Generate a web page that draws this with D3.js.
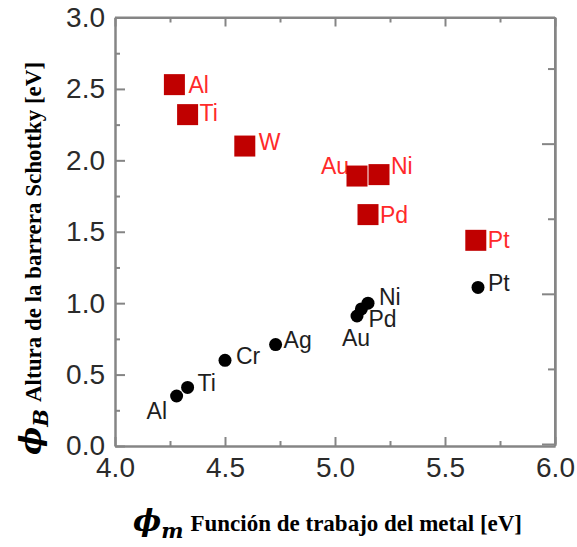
<!DOCTYPE html>
<html>
<head>
<meta charset="utf-8">
<script src="https://cdn.jsdelivr.net/npm/d3@7/dist/d3.min.js"></script>
<style>
  html, body { margin: 0; padding: 0; background: #fff; }
  svg { display: block; }
</style>
</head>
<body>
<svg id="chart" width="577" height="547"></svg>
<script>
// Ideal Schottky–Mott barrier heights (red squares)
const idealMetals  = ["Al", "Ti", "W", "Au", "Ni", "Pd", "Pt"];
const idealWork    = [4.27, 4.33, 4.59, 5.10, 5.20, 5.15, 5.64];
const idealBarrier = [2.53, 2.32, 2.10, 1.89, 1.90, 1.62, 1.44];

// Measured barrier heights (black dots)
const measuredMetals  = ["Al", "Ti", "Cr", "Ag", "Au", "Pd", "Ni", "Pt"];
const measuredWork    = [4.28, 4.33, 4.50, 4.73, 5.10, 5.12, 5.15, 5.65];
const measuredBarrier = [0.35, 0.41, 0.60, 0.71, 0.91, 0.96, 1.00, 1.11];

// Axis ticks
const xTicks      = [4.0, 4.5, 5.0, 5.5, 6.0];
const xMinorTicks = [4.25, 4.75, 5.25, 5.75];
const yTicks      = [0.0, 0.5, 1.0, 1.5, 2.0, 2.5, 3.0];
const yMinorTicks = [0.25, 0.75, 1.25, 1.75, 2.25, 2.75];
const rightTicks      = [0.5, 1.0, 1.5];
const rightMinorTicks = [0.75, 1.25, 1.75];

// Label placement relative to each mark (layout only)
const idealLabelOffsets = [[14, 8], [12, 6], [14, 4], [-36, -2], [12, -1], [12, 8], [12, 8]];
const measuredLabelOffsets = [[-30, 23], [10, 4], [11, 4], [8, 3], [-15, 30], [7, 18], [11, 2], [10, 4]];

const svg = d3.select("#chart");

const x = d3.scaleLinear().domain([4, 6]).range([115, 555]);
const y = d3.scaleLinear().domain([0, 3]).range([446, 17.5]);
const yRight = d3.scaleLinear().domain([0.5, 1.92]).range([444, 17.5]);

const axisColor = "#858585";
const labelFont = "'Liberation Sans', Arial, Helvetica, sans-serif";

function styleAxis(g) {
  g.selectAll(".domain").attr("stroke", axisColor).attr("stroke-width", 2);
  g.selectAll(".tick line").attr("stroke", axisColor).attr("stroke-width", 2);
  g.selectAll(".tick text")
    .attr("fill", "#2b2b2b")
    .style("font-family", labelFont)
    .style("font-size", "28px");
}

// Left axis
svg.append("g").attr("transform", "translate(115,0)")
  .call(d3.axisLeft(y).tickValues(yTicks).tickSize(-10).tickSizeOuter(0).tickPadding(10).tickFormat(d3.format(".1f")))
  .call(styleAxis);
svg.append("g").attr("transform", "translate(115,0)")
  .call(d3.axisLeft(y).tickValues(yMinorTicks).tickSize(-5).tickSizeOuter(0).tickFormat(""))
  .call(styleAxis);

// Bottom axis
svg.append("g").attr("transform", "translate(0,446)")
  .call(d3.axisBottom(x).tickValues(xTicks).tickSize(-9).tickSizeOuter(0).tickPadding(11).tickFormat(d3.format(".1f")))
  .call(styleAxis);
svg.append("g").attr("transform", "translate(0,446)")
  .call(d3.axisBottom(x).tickValues(xMinorTicks).tickSize(-5).tickSizeOuter(0).tickFormat(""))
  .call(styleAxis);

// Top axis
svg.append("g").attr("transform", "translate(0,17.5)")
  .call(d3.axisTop(x).tickValues(xTicks).tickSize(-9).tickSizeOuter(0).tickFormat(""))
  .call(styleAxis);
svg.append("g").attr("transform", "translate(0,17.5)")
  .call(d3.axisTop(x).tickValues(xMinorTicks).tickSize(-5).tickSizeOuter(0).tickFormat(""))
  .call(styleAxis);

// Right axis
svg.append("g").attr("transform", "translate(555,0)")
  .call(d3.axisRight(yRight).tickValues(rightTicks).tickSize(-13).tickSizeOuter(0).tickFormat(""))
  .call(styleAxis);
svg.append("g").attr("transform", "translate(555,0)")
  .call(d3.axisRight(yRight).tickValues(rightMinorTicks).tickSize(-7).tickSizeOuter(0).tickFormat(""))
  .call(styleAxis);
// Right and top frame lines span the full plot
svg.append("line").attr("x1", 555).attr("x2", 555).attr("y1", 17.5).attr("y2", 446)
  .attr("stroke", axisColor).attr("stroke-width", 2);
svg.append("line").attr("x1", 115).attr("x2", 555).attr("y1", 17.5).attr("y2", 17.5)
  .attr("stroke", axisColor).attr("stroke-width", 2);

// Ideal barrier labels and squares
const ideal = idealMetals.map((m, i) => ({ m, wf: idealWork[i], b: idealBarrier[i], off: idealLabelOffsets[i] }));
svg.append("g").selectAll("text").data(ideal).join("text")
  .attr("x", d => x(d.wf) + d.off[0])
  .attr("y", d => y(d.b) + d.off[1])
  .attr("fill", "#ff2a2a")
  .style("font-family", labelFont)
  .style("font-size", "23px")
  .text(d => d.m);
const sq = 21;
svg.append("g").selectAll("rect").data(ideal).join("rect")
  .attr("x", d => x(d.wf) - sq / 2)
  .attr("y", d => y(d.b) - sq / 2)
  .attr("width", sq).attr("height", sq)
  .attr("fill", "#c00000");

// Measured barrier labels and dots
const measured = measuredMetals.map((m, i) => ({ m, wf: measuredWork[i], b: measuredBarrier[i], off: measuredLabelOffsets[i] }));
svg.append("g").selectAll("text").data(measured).join("text")
  .attr("x", d => x(d.wf) + d.off[0])
  .attr("y", d => y(d.b) + d.off[1])
  .attr("fill", "#1e1e1e")
  .style("font-family", labelFont)
  .style("font-size", "23px")
  .text(d => d.m);
svg.append("g").selectAll("circle").data(measured).join("circle")
  .attr("cx", d => x(d.wf))
  .attr("cy", d => y(d.b))
  .attr("r", 6.5)
  .attr("fill", "#000");

// Axis titles
const serif = "'Liberation Serif', 'Times New Roman', serif";
const mathSerif = "'DejaVu Serif', 'Liberation Serif', serif";
const xTitle = svg.append("text")
  .attr("x", 133).attr("y", 531)
  .style("font-family", serif).style("font-weight", "bold").attr("fill", "#000");
xTitle.append("tspan").style("font-family", mathSerif).style("font-style", "italic").style("font-size", "30px").text("ϕ");
xTitle.append("tspan").style("font-family", mathSerif).style("font-style", "italic").style("font-size", "21px").attr("dy", 7).text("m");
xTitle.append("tspan").style("font-size", "23px").attr("dy", -7).attr("dx", 7).text("Función de trabajo del metal [eV]");

const yTitle = svg.append("text")
  .attr("transform", "translate(41,455) rotate(-90)")
  .style("font-family", serif).style("font-weight", "bold").attr("fill", "#000");
yTitle.append("tspan").style("font-family", mathSerif).style("font-style", "italic").style("font-size", "30px").text("ϕ");
yTitle.append("tspan").style("font-family", mathSerif).style("font-style", "italic").style("font-size", "21px").attr("dy", 7).text("B");
yTitle.append("tspan").style("font-size", "23px").attr("dy", -7).attr("dx", 7).text("Altura de la barrera Schottky [eV]");
</script>
</body>
</html>
